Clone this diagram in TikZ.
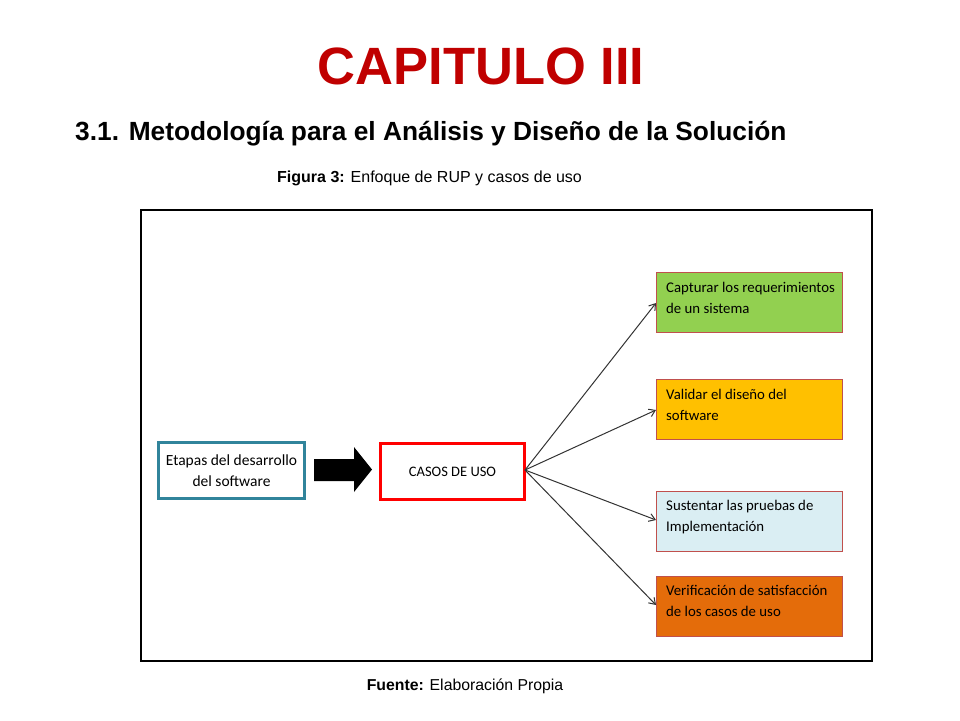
\documentclass[tikz,border=0pt]{standalone}
\usepackage{fontspec}
\setmainfont{Liberation Sans}
\newfontfamily\carl{Carlito}
\usetikzlibrary{arrows.meta}
\definecolor{tred}{HTML}{C00000}
\definecolor{tealc}{HTML}{31849B}
\definecolor{bred}{HTML}{C0504D}
\begin{document}
\begin{tikzpicture}[x=1pt,y=-1pt,
  rbox/.style={draw=bred,line width=1pt,minimum width=186pt,minimum height=60pt,anchor=north west,inner sep=0pt},
  btxt/.style={anchor=north west,font=\carl\fontsize{14.8}{21}\selectfont,align=left,inner sep=0},
  conn/.style={draw=black!80,line width=1pt,-{Straight Barb[length=6pt,width=8pt]}}]
\useasboundingbox (0,0) rectangle (960,720);
\node[text=tred,font=\bfseries\fontsize{52.5}{55}\selectfont] (t) at (481,66) {CAPITULO III};
\node[anchor=west,font=\bfseries\fontsize{26.3}{28}\selectfont,inner sep=0] (s) at (75,134) {3.1. Metodología para el Análisis y Diseño de la Solución};
\node[anchor=west,font=\fontsize{16}{18}\selectfont,inner sep=0] (f) at (277,178) {\textbf{Figura 3:} Enfoque de RUP y casos de uso};
\node[font=\fontsize{15.8}{18}\selectfont,inner sep=0] (fu) at (465,686) {\textbf{Fuente:} Elaboración Propia};
\draw[line width=2pt] (141,210) rectangle (872,661);
\node[draw=tealc,line width=2.5pt,minimum width=146pt,minimum height=56pt,align=center,
  font=\carl\fontsize{15.5}{21}\selectfont] (e) at (231.5,470.5) {Etapas del desarrollo\\del software};
\node[draw=red,line width=2.5pt,minimum width=144pt,minimum height=56pt,
  font=\carl\fontsize{14.5}{18}\selectfont] (c) at (452.5,471.5) {CASOS DE USO};
\fill (314,459) -- (354,459) -- (354,447) -- (372,469.5) -- (354,492) -- (354,481) -- (314,481) -- cycle;
\node[rbox,fill={rgb,255:red,146;green,208;blue,80}] (b1) at (656,272) {};
\node[btxt] (t1) at (666,282) {Capturar los requerimientos\\de un sistema};
\node[rbox,fill={rgb,255:red,255;green,192;blue,0}] (b2) at (656,379) {};
\node[btxt] (t2) at (666,389) {Validar el diseño del\\software};
\node[rbox,fill={rgb,255:red,218;green,238;blue,243}] (b3) at (656,491) {};
\node[btxt] (t3) at (666,500) {Sustentar las pruebas de\\Implementación};
\node[rbox,fill={rgb,255:red,228;green,108;blue,10}] (b4) at (656,576) {};
\node[btxt] (t4) at (666,585) {Verificación de satisfacción\\de los casos de uso};
\coordinate (o) at (525,470);
\draw[conn] (o) -- (b1.west |- 0,303);
\draw[conn] (o) -- (b2.west |- 0,410);
\draw[conn] (o) -- (b3.west |- 0,520);
\draw[conn] (o) -- (b4.west |- 0,605);
\end{tikzpicture}
\end{document}
